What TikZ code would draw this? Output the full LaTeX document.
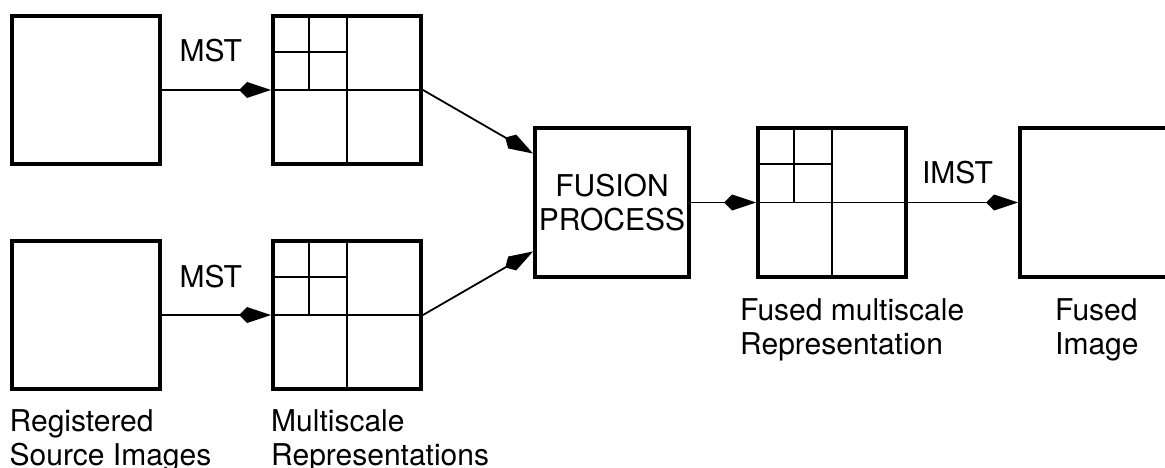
\documentclass[tikz,border=0pt]{standalone}
\usepackage{fontspec}
\setmainfont{TeX Gyre Heros}
\usetikzlibrary{arrows.meta,calc}
\begin{document}
\begin{tikzpicture}[x=1pt,y=-1pt,
  box/.style={draw, line width=4pt, minimum width=148pt, minimum height=148pt, inner sep=0pt, fill=white},
  grid/.style={line width=1.8pt},
  flow/.style={line width=1.8pt, -{Kite[length=32pt,width=16pt,inset=8pt]}},
  txt/.style={font=\fontsize{30}{34}\selectfont, inner sep=0pt},
  lbl/.style={txt, align=left, anchor=base west}]
\useasboundingbox (0,0) rectangle (1165,468);
\clip (0,0) rectangle (1165,468);

% image blocks
\node[box] (src1) at (85.5,90) {};
\node[box] (src2) at (85.5,315) {};
\node[box] (ms1) at (347,90) {};
\node[box] (ms2) at (347,315) {};
\node[box, minimum width=154pt, minimum height=149pt, txt, align=center] (fus) at (612,202.5) {FUSION\\PROCESS};
\node[box, minimum height=149pt] (fms) at (832,202.5) {};
\node[box, minimum height=149pt] (fimg) at (1094,202.5) {};

% multiscale subdivision grids
\foreach \m in {ms1,ms2,fms} {
  \draw[grid] (\m.north) -- (\m.south);
  \draw[grid] (\m.west) -- (\m.east);
  \draw[grid] ($(\m.north west)!.25!(\m.north east)$) -- ($(\m.west)!.25!(\m.east)$);
  \draw[grid] ($(\m.north west)!.25!(\m.south west)$) -- ($(\m.north)!.25!(\m.south)$);
}

% connectors
\coordinate (fin1) at ($(fus.north west)!.18!(fus.south west)$);
\coordinate (fin2) at ($(fus.north west)!.82!(fus.south west)$);
\draw[flow] (src1) -- node[txt, pos=.45, anchor=base, yshift=28pt] (mst1) {MST} (ms1);
\draw[flow] (src2) -- node[txt, pos=.45, anchor=base, yshift=28pt] (mst2) {MST} (ms2);
\draw[flow] (ms1.east) -- (fin1);
\draw[flow] (ms2.east) -- (fin2);
\draw[flow] (fus) -- (fms);
\draw[flow] (fms) -- node[txt, pos=.45, anchor=base, yshift=19.5pt] (imst) {IMST} (fimg);

% two-line captions, anchored at the baseline of their second line
\node[lbl] (lsrc) at ([yshift=-74pt]src2.south west) {Registered\\Source Images};
\node[lbl] (lms) at ([yshift=-74pt]ms2.south west) {Multiscale\\Representations};
\node[lbl] (lfms) at ([xshift=-16pt,yshift=-75pt]fms.south west) {Fused multiscale\\Representation};
\node[lbl] (lfimg) at ([xshift=37pt,yshift=-75pt]fimg.south west) {Fused\\Image};
\end{tikzpicture}
\end{document}
